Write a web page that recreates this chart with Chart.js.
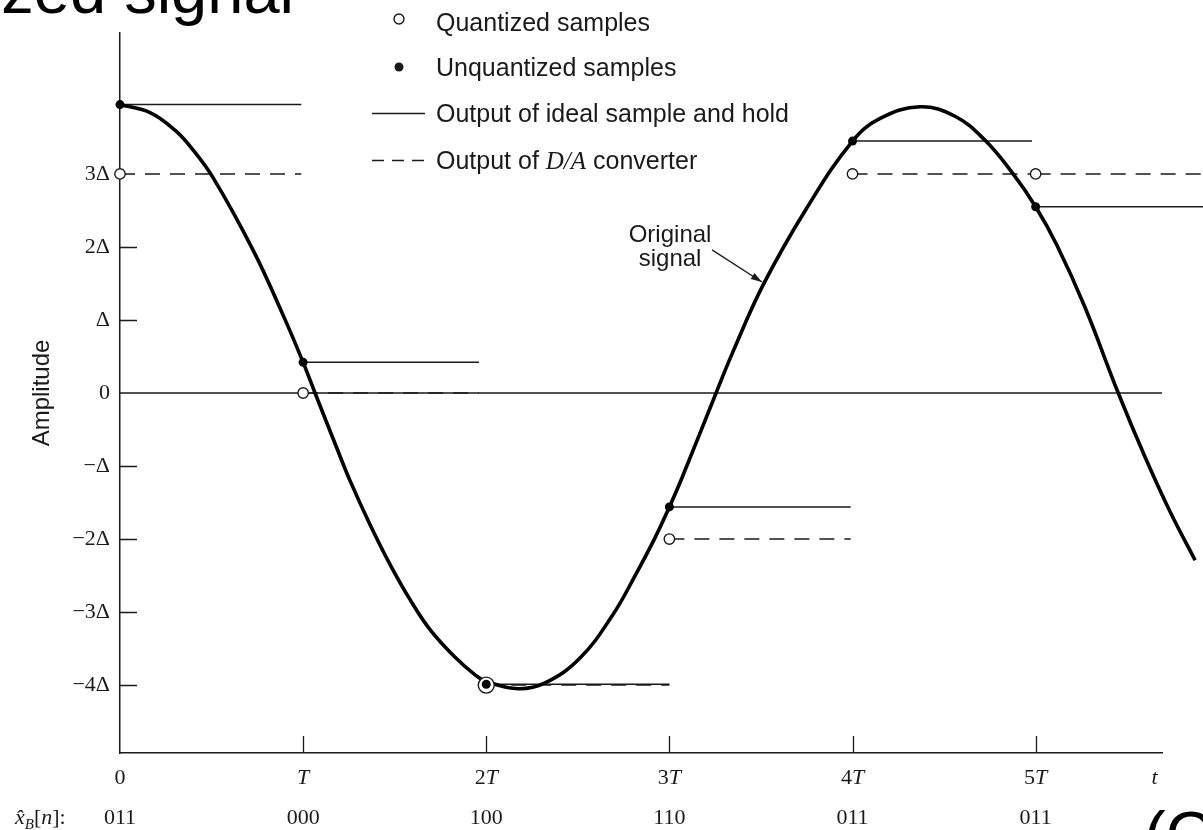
<!DOCTYPE html>
<html>
<head>
<meta charset="utf-8">
<title>Quantized signal</title>
<script src="https://cdn.jsdelivr.net/npm/chart.js@4.4.1/dist/chart.umd.min.js"></script>
<style>
  html, body { margin: 0; padding: 0; background: #fff; }
  canvas { display: block; }
</style>
</head>
<body>
<canvas id="grafica" width="1203" height="830"></canvas>
<script>
// Señal original: t en múltiplos de T, amplitud en múltiplos de Δ
const signalT = [0, 0.164, 0.300, 0.382, 0.508, 0.726, 0.890, 1.0, 1.065, 1.185, 1.256, 1.365, 1.475,
  1.584, 1.693, 1.830, 1.939, 2.0, 2.174, 2.321, 2.512, 2.693, 2.813, 2.922, 3.0, 3.069, 3.255,
  3.348, 3.512, 3.747, 4.0, 4.151, 4.369, 4.560, 4.724, 4.877, 5.0, 5.117, 5.270, 5.451, 5.598,
  5.735, 5.871];
const signalY = [3.95, 3.84, 3.60, 3.38, 2.95, 1.96, 1.07, 0.42, 0, -0.76, -1.20, -1.80, -2.35,
  -2.83, -3.24, -3.62, -3.86, -3.95, -4.05, -3.97, -3.63, -3.03, -2.50, -1.98, -1.56, -1.16, 0,
  0.57, 1.48, 2.52, 3.45, 3.76, 3.92, 3.79, 3.46, 3.00, 2.55, 2.02, 1.17, 0, -0.88,
  -1.63, -2.29];

// Muestras en t = nT
const sampleT = [0, 1, 2, 3, 4, 5];
const unquantized = [3.95, 0.42, -3.99, -1.56, 3.45, 2.55];
const quantized = [3, 0, -4, -2, 3, 3];
// Fin de cada tramo (retención ideal y salida del D/A)
const holdEnd = [0.99, 1.96, 3.0, 3.99, 4.98, 5.93];

// Palabras de código de 3 bits
const codes = ['011', '000', '100', '110', '011', '011'];

const xTickValues = [0, 1, 2, 3, 4, 5, 5.65];
const xTickLabels = ['0', 'T', '2T', '3T', '4T', '5T', 't'];
const xTickMarks = [1, 2, 3, 4, 5];
const yTickValues = [3, 2, 1, 0, -1, -2, -3, -4];
const yTickLabels = ['3Δ', '2Δ', 'Δ', '0', '−Δ', '−2Δ', '−3Δ', '−4Δ'];
const yTickMarks = [2, 1, -1, -2, -3, -4];

const X_MIN = 0, X_MAX = 5.69;
const INK = '#1a1a1a';
const SANS = '"Liberation Sans", Arial, sans-serif';
const SERIF = '"Liberation Serif", "Times New Roman", serif';

// Construcción de datasets (el primero se dibuja encima)
const datasets = [];

datasets.push({
  label: 'Unquantized samples',
  data: sampleT.map((t, i) => ({ x: t, y: unquantized[i] })),
  showLine: false,
  pointRadius: 4.5,
  pointBackgroundColor: '#000',
  pointBorderWidth: 0,
  clip: false
});

datasets.push({
  label: 'Quantized samples',
  data: sampleT.map((t, i) => ({ x: t, y: quantized[i] })),
  showLine: false,
  // círculo más grande cuando coincide con la muestra sin cuantizar
  pointRadius: (c) => Math.abs(quantized[c.dataIndex] - unquantized[c.dataIndex]) < 0.1 ? 8 : 5.2,
  pointBackgroundColor: '#fff',
  pointBorderColor: INK,
  pointBorderWidth: 1.4,
  clip: false
});

datasets.push({
  label: 'Original signal',
  data: signalT.map((t, i) => ({ x: t, y: signalY[i] })),
  showLine: true,
  borderColor: '#000',
  borderWidth: 3.6,
  pointRadius: 0,
  tension: 0.4,
  clip: false
});

sampleT.forEach((t, i) => {
  datasets.push({
    label: 'Output of ideal sample and hold',
    data: [{ x: t, y: unquantized[i] }, { x: holdEnd[i], y: unquantized[i] }],
    showLine: true,
    borderColor: INK,
    borderWidth: 1.5,
    pointRadius: 0,
    clip: false
  });
});

sampleT.forEach((t, i) => {
  datasets.push({
    label: 'Output of D/A converter',
    data: [{ x: t, y: quantized[i] }, { x: holdEnd[i], y: quantized[i] }],
    showLine: true,
    borderColor: INK,
    borderWidth: 1.5,
    borderDash: [15, 10],
    pointRadius: 0,
    clip: false
  });
});

datasets.push({
  label: 'zero',
  data: [{ x: X_MIN, y: 0 }, { x: X_MAX, y: 0 }],
  showLine: true,
  borderColor: INK,
  borderWidth: 1.5,
  pointRadius: 0,
  clip: false
});

// Texto con dígitos rectos y letras en cursiva (estilo de la figura)
function runsFor(label) {
  const m = label.match(/^(\d*)(.*)$/);
  const runs = [];
  if (m[1]) runs.push({ t: m[1], it: false });
  if (m[2]) runs.push({ t: m[2], it: true });
  return runs;
}

function drawRuns(ctx, runs, x, baseline, align) {
  let total = 0;
  runs.forEach(r => {
    ctx.font = r.font;
    r.w = ctx.measureText(r.t).width;
    total += r.w;
  });
  let xx = align === 'center' ? x - total / 2 : x;
  runs.forEach(r => {
    ctx.font = r.font;
    ctx.fillText(r.t, xx, baseline + (r.dy || 0));
    xx += r.w;
  });
}

const dibujos = {
  id: 'dibujos',
  afterDraw(chart) {
    const { ctx, chartArea } = chart;
    const xs = chart.scales.x;
    const ys = chart.scales.y;
    ctx.save();
    ctx.fillStyle = INK;
    ctx.strokeStyle = INK;
    ctx.textAlign = 'left';
    ctx.textBaseline = 'alphabetic';

    // Marcas hacia dentro
    ctx.lineWidth = 1.3;
    ctx.beginPath();
    yTickMarks.forEach(v => {
      const py = Math.round(ys.getPixelForValue(v)) + 0.5;
      ctx.moveTo(chartArea.left, py);
      ctx.lineTo(chartArea.left + 17, py);
    });
    xTickMarks.forEach(v => {
      const px = Math.round(xs.getPixelForValue(v)) + 0.5;
      ctx.moveTo(px, chartArea.bottom);
      ctx.lineTo(px, chartArea.bottom - 17);
    });
    ctx.stroke();

    // Etiquetas del eje de tiempo
    xTickValues.forEach((v, i) => {
      const runs = runsFor(xTickLabels[i]).map(r => ({
        t: r.t, font: (r.it ? 'italic ' : '') + '22px ' + SERIF
      }));
      drawRuns(ctx, runs, xs.getPixelForValue(v), chartArea.bottom + 31, 'center');
    });

    // Palabras de código
    ctx.font = '22px ' + SERIF;
    ctx.textAlign = 'center';
    sampleT.forEach((t, i) => {
      ctx.fillText(codes[i], xs.getPixelForValue(t), chartArea.bottom + 71);
    });
    ctx.textAlign = 'left';
    drawRuns(ctx, [
      { t: 'x\u0302', font: 'italic 22px ' + SERIF },
      { t: 'B', font: 'italic 15px ' + SERIF, dy: 5 },
      { t: '[', font: '22px ' + SERIF },
      { t: 'n', font: 'italic 22px ' + SERIF },
      { t: ']:', font: '22px ' + SERIF }
    ], 15, chartArea.bottom + 71, 'left');

    // Leyenda
    const lx = 436;
    ctx.font = '25px ' + SANS;
    ctx.lineWidth = 1.4;
    ctx.fillStyle = '#fff';
    ctx.beginPath();
    ctx.arc(399, 19, 5, 0, Math.PI * 2);
    ctx.fill();
    ctx.stroke();
    ctx.fillStyle = INK;
    ctx.fillText('Quantized samples', lx, 31);

    ctx.beginPath();
    ctx.arc(399, 67, 4.5, 0, Math.PI * 2);
    ctx.fill();
    ctx.fillText('Unquantized samples', lx, 76);

    ctx.lineWidth = 1.5;
    ctx.beginPath();
    ctx.moveTo(372, 113.5);
    ctx.lineTo(425, 113.5);
    ctx.stroke();
    ctx.fillText('Output of ideal sample and hold', lx, 122);

    ctx.setLineDash([12, 8]);
    ctx.beginPath();
    ctx.moveTo(372, 160.5);
    ctx.lineTo(426, 160.5);
    ctx.stroke();
    ctx.setLineDash([]);
    drawRuns(ctx, [
      { t: 'Output of ', font: '25px ' + SANS },
      { t: 'D/A', font: 'italic 25px ' + SERIF },
      { t: ' converter', font: '25px ' + SANS }
    ], lx, 169, 'left');

    // Anotación "Original signal"
    const tailX = xs.getPixelForValue(3.233), tailY = ys.getPixelForValue(1.96);
    const tipX = xs.getPixelForValue(3.505), tipY = ys.getPixelForValue(1.52);
    ctx.lineWidth = 1.3;
    ctx.beginPath();
    ctx.moveTo(tailX, tailY);
    ctx.lineTo(tipX, tipY);
    ctx.stroke();
    const ang = Math.atan2(tipY - tailY, tipX - tailX);
    ctx.beginPath();
    ctx.moveTo(tipX, tipY);
    ctx.lineTo(tipX - 11 * Math.cos(ang) + 3.5 * Math.sin(ang), tipY - 11 * Math.sin(ang) - 3.5 * Math.cos(ang));
    ctx.lineTo(tipX - 11 * Math.cos(ang) - 3.5 * Math.sin(ang), tipY - 11 * Math.sin(ang) + 3.5 * Math.cos(ang));
    ctx.closePath();
    ctx.fill();
    ctx.font = '24px ' + SANS;
    ctx.textAlign = 'center';
    ctx.fillText('Original', tailX - 42, tailY - 8);
    ctx.fillText('signal', tailX - 42, tailY + 16);

    // Restos del título de la diapositiva y del marco inferior
    ctx.fillStyle = '#000';
    ctx.font = '65px ' + SANS;
    ctx.textAlign = 'right';
    ctx.fillText('Quantized signal', 294, 13);
    ctx.textAlign = 'left';
    ctx.fillText('(C', 1144, 857);

    ctx.restore();
  }
};

new Chart(document.getElementById('grafica'), {
  type: 'scatter',
  data: { datasets },
  options: {
    responsive: false,
    animation: false,
    events: [],
    layout: { padding: { left: 0, right: 41, top: 33, bottom: 77 } },
    plugins: {
      legend: { display: false },
      tooltip: { enabled: false }
    },
    scales: {
      x: {
        type: 'linear',
        bounds: 'data',
        grid: { display: false, drawTicks: false },
        border: { display: true, color: INK, width: 1.5 },
        ticks: { display: false },
        // límites fijados aquí para que la señal pueda continuar más allá del eje
        afterDataLimits: (s) => { s.min = X_MIN; s.max = X_MAX; },
        afterBuildTicks: (s) => {
          s.min = X_MIN; s.max = X_MAX;
          s.ticks = xTickValues.map(v => ({ value: v }));
        },
        afterFit: (s) => { s.height = 0; }
      },
      y: {
        type: 'linear',
        min: -4.93,
        max: 4.93,
        grid: { display: false, drawTicks: false },
        border: { display: true, color: INK, width: 1.5 },
        afterBuildTicks: (s) => { s.ticks = yTickValues.map(v => ({ value: v })); },
        afterFit: (s) => { s.width = 120; },
        ticks: {
          autoSkip: false,
          padding: 10,
          color: INK,
          font: { family: SERIF, size: 22 },
          callback: (v) => yTickLabels[yTickValues.indexOf(v)]
        },
        title: {
          display: true,
          text: 'Amplitude',
          color: INK,
          font: { family: SANS, size: 24 },
          padding: { top: 28, bottom: 0 }
        }
      }
    }
  },
  plugins: [dibujos]
});
</script>
</body>
</html>
